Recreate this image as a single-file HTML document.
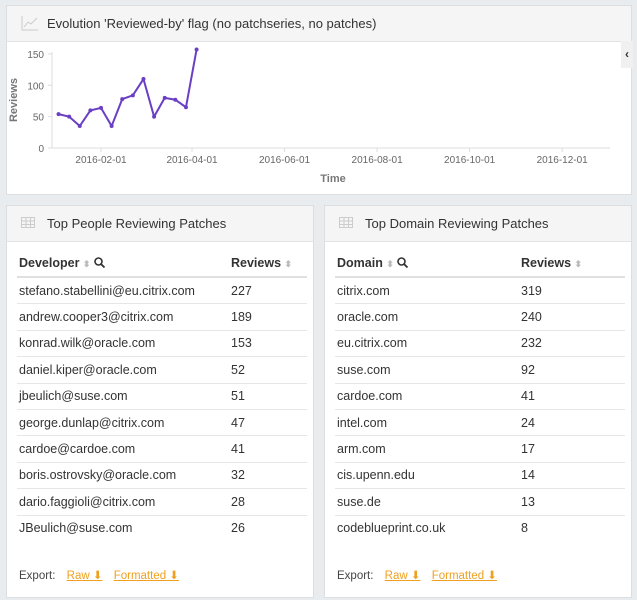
<!DOCTYPE html>
<html><head><meta charset="utf-8"><style>
body{margin:0;width:637px;height:600px;background:#e9ecee;font-family:"Liberation Sans",sans-serif;position:relative;overflow:hidden;color:#333}
.panel{position:absolute;background:#fff;border:1px solid #dcdfe1;box-sizing:border-box}
.ph{position:absolute;left:0;right:0;top:0;height:35px;background:#f5f5f5;border-bottom:1px solid #e3e3e3;font-size:13px;line-height:35px}
.ph span{position:absolute;left:40px}
table{position:absolute;left:10px;top:43px;border-collapse:collapse;font-size:12.5px}
td,th{height:25.4px;padding:0 0 0 2px;text-align:left;border-top:1px solid #e6e6e6}
th{border-top:none;border-bottom:2px solid #e0e0e0;font-weight:bold;height:27px}
.exp{position:absolute;left:12px;top:362px;font-size:11.5px;color:#444}
.exp a{color:#f0a020;text-decoration:underline;margin-left:8px}
.sort{color:#bbb;font-size:9px}
</style></head><body>
<div class="panel" style="left:6px;top:5px;width:626px;height:190px">
 <div class="ph"><svg style="position:absolute;left:14px;top:9px" width="18" height="16"><path d="M1 1V15H17" stroke="#ccc" fill="none"/><path d="M3 12L7 7L10 9L16 3" stroke="#ccc" fill="none"/></svg><span>Evolution 'Reviewed-by' flag (no patchseries, no patches)</span></div>
 <div style="position:absolute;left:614px;top:35px;width:12px;height:27px;background:#f0f0f0;font-size:12px;font-weight:bold;line-height:27px;text-align:center">‹</div>
</div>
<svg id="chart" style="position:absolute;left:0;top:0" width="637" height="200"></svg>
<div class="panel" style="left:6px;top:205px;width:308px;height:393px">
 <div class="ph"><svg style="position:absolute;left:14px;top:11px" width="14" height="11"><rect x="0.5" y="0.5" width="13" height="10" fill="none" stroke="#ccc"/><path d="M0 4H14M0 7.5H14M5 0V11M9.5 0V11" stroke="#ccc"/></svg><span>Top People Reviewing Patches</span></div>
 <table style="width:290px">
 <tr><th style="width:210px">Developer <span class="sort">⬍</span> <svg width="11" height="11" style="vertical-align:-1px"><circle cx="4.5" cy="4.5" r="3.5" fill="none" stroke="#333" stroke-width="1.6"/><path d="M7 7L10.5 10.5" stroke="#333" stroke-width="1.8"/></svg></th><th>Reviews <span class="sort">⬍</span></th></tr>
 <tr><td>stefano.stabellini@eu.citrix.com</td><td>227</td></tr>
 <tr><td>andrew.cooper3@citrix.com</td><td>189</td></tr>
 <tr><td>konrad.wilk@oracle.com</td><td>153</td></tr>
 <tr><td>daniel.kiper@oracle.com</td><td>52</td></tr>
 <tr><td>jbeulich@suse.com</td><td>51</td></tr>
 <tr><td>george.dunlap@citrix.com</td><td>47</td></tr>
 <tr><td>cardoe@cardoe.com</td><td>41</td></tr>
 <tr><td>boris.ostrovsky@oracle.com</td><td>32</td></tr>
 <tr><td>dario.faggioli@citrix.com</td><td>28</td></tr>
 <tr><td>JBeulich@suse.com</td><td>26</td></tr>
 </table>
 <div class="exp">Export: <a>Raw ⬇</a> <a>Formatted ⬇</a></div>
</div>
<div class="panel" style="left:324px;top:205px;width:308px;height:393px">
 <div class="ph"><svg style="position:absolute;left:14px;top:11px" width="14" height="11"><rect x="0.5" y="0.5" width="13" height="10" fill="none" stroke="#ccc"/><path d="M0 4H14M0 7.5H14M5 0V11M9.5 0V11" stroke="#ccc"/></svg><span>Top Domain Reviewing Patches</span></div>
 <table style="width:290px">
 <tr><th style="width:182px">Domain <span class="sort">⬍</span> <svg width="11" height="11" style="vertical-align:-1px"><circle cx="4.5" cy="4.5" r="3.5" fill="none" stroke="#333" stroke-width="1.6"/><path d="M7 7L10.5 10.5" stroke="#333" stroke-width="1.8"/></svg></th><th>Reviews <span class="sort">⬍</span></th></tr>
 <tr><td>citrix.com</td><td>319</td></tr>
 <tr><td>oracle.com</td><td>240</td></tr>
 <tr><td>eu.citrix.com</td><td>232</td></tr>
 <tr><td>suse.com</td><td>92</td></tr>
 <tr><td>cardoe.com</td><td>41</td></tr>
 <tr><td>intel.com</td><td>24</td></tr>
 <tr><td>arm.com</td><td>17</td></tr>
 <tr><td>cis.upenn.edu</td><td>14</td></tr>
 <tr><td>suse.de</td><td>13</td></tr>
 <tr><td>codeblueprint.co.uk</td><td>8</td></tr>
 </table>
 <div class="exp">Export: <a>Raw ⬇</a> <a>Formatted ⬇</a></div>
</div>
<script>
const dates=["2016-01-04","2016-01-11","2016-01-18","2016-01-25","2016-02-01","2016-02-08","2016-02-15","2016-02-22","2016-02-29","2016-03-07","2016-03-14","2016-03-21","2016-03-28","2016-04-04"];
const reviews=[54,50,35,60,64,35,78,84,110,50,80,77,65,157];
const yTicks=[0,50,100,150];
const xTicks=["2016-02-01","2016-04-01","2016-06-01","2016-08-01","2016-10-01","2016-12-01"];
const svg=document.getElementById('chart');const NS='http://www.w3.org/2000/svg';
const t0=Date.parse("2016-02-01"),day=864e5;
function xs(d){return 101+(Date.parse(d)-t0)/day*1.517;}
function ys(v){return 148-v*0.627;}
function mk(tag,a,txt){const e=document.createElementNS(NS,tag);for(const k in a)e.setAttribute(k,a[k]);if(txt!=null)e.textContent=txt;svg.appendChild(e);return e;}
let e=mk('line',{x1:52,y1:148,x2:610,y2:148,stroke:'#ddd'});


e=mk('line',{x1:52,y1:52,x2:52,y2:148,stroke:'#ddd'});


yTicks.forEach(v=>{mk('line',{x1:48,x2:52,y1:ys(v),y2:ys(v),stroke:'#ddd'});
 const t=mk('text',{x:44,y:ys(v)+4,'text-anchor':'end','font-size':10,fill:'#666'},v);
 
 });
xTicks.forEach(d=>{mk('line',{x1:xs(d),x2:xs(d),y1:148,y2:152,stroke:'#ddd'});
 const t=mk('text',{x:xs(d),y:163,'text-anchor':'middle','font-size':10,fill:'#666'},d);
 
 });
e=mk('text',{x:333,y:182,'text-anchor':'middle','font-size':11,'font-weight':'bold',fill:'#777'},'Time');


e=mk('text',{x:17,y:100,'text-anchor':'middle','font-size':11,'font-weight':'bold',fill:'#777',transform:'rotate(-90 17 100)'},'Reviews');


e=mk('polyline',{points:dates.map((d,i)=>xs(d)+','+ys(reviews[i])).join(' '),fill:'none',stroke:'#6a3fc4','stroke-width':2});


dates.forEach((d,i)=>{const c=mk('circle',{cx:xs(d),cy:ys(reviews[i]),r:2,fill:'#6a3fc4'});
 
 });
</script>
</body></html>
